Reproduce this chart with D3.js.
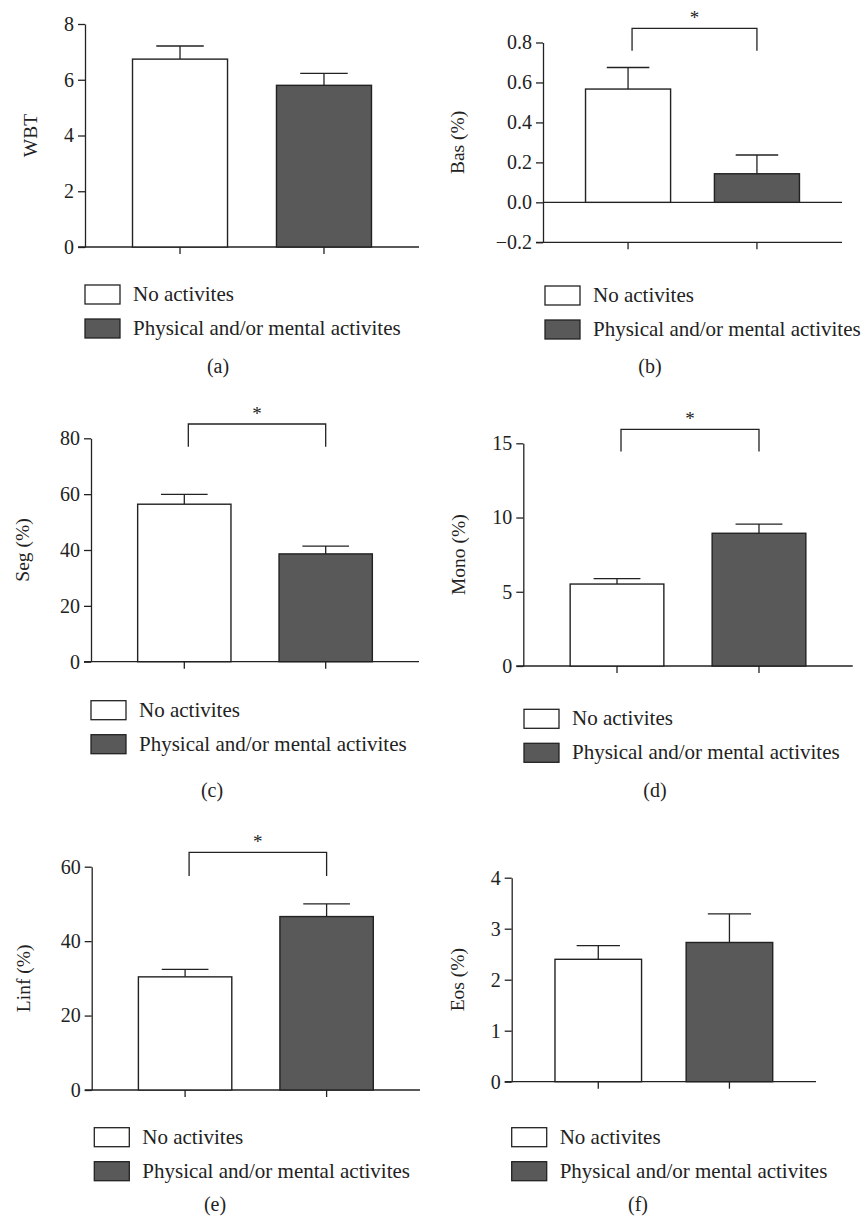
<!DOCTYPE html>
<html>
<head>
<meta charset="utf-8">
<script src="https://cdn.jsdelivr.net/npm/d3@7"></script>
<style>
  body { margin: 0; background: #fff; }
  text { font-family: "Liberation Serif", "Times New Roman", serif; fill: #222; }
</style>
</head>
<body>
<div id="chart"></div>
<script>
// groups shown on every panel
const groups = ['No activites', 'Physical and/or mental activites'];

// bar means and SEM
const wbt = [6.74, 5.80];
const wbtSem = [0.47, 0.43];
const bas = [0.567, 0.143];
const basSem = [0.108, 0.094];
const seg = [56.4, 38.6];
const segSem = [3.5, 2.8];
const mono = [5.52, 8.94];
const monoSem = [0.36, 0.62];
const linf = [30.4, 46.6];
const linfSem = [2.0, 3.4];
const eos = [2.40, 2.73];
const eosSem = [0.27, 0.56];

// y tick values
const wbtTicks = [0, 2, 4, 6, 8];
const basTicks = [-0.2, 0.0, 0.2, 0.4, 0.6, 0.8];
const segTicks = [0, 20, 40, 60, 80];
const monoTicks = [0, 5, 10, 15];
const linfTicks = [0, 20, 40, 60];
const eosTicks = [0, 1, 2, 3, 4];

const yTitles = ['WBT', 'Bas (%)', 'Seg (%)', 'Mono (%)', 'Linf (%)', 'Eos (%)'];
const panelLetters = ['(a)', '(b)', '(c)', '(d)', '(e)', '(f)'];
const significant = [false, true, true, true, true, false];

const width = 865, height = 1219;
const darkFill = '#595959';
const ink = '#222';

const svg = d3.select('#chart').append('svg')
    .attr('width', width)
    .attr('height', height);

// layout for each panel: axis box, legend and caption position
const panels = [
    { vals: wbt, sem: wbtSem, ticks: wbtTicks, fmt: d3.format('d'),
      left: 85, right: 419, top: 24, bottom: 247, titleX: 30,
      legX: 85, legY: 285, capX: 218, capY: 373 },
    { vals: bas, sem: basSem, ticks: basTicks, fmt: d3.format('.1f'),
      left: 543, right: 842, top: 42.5, bottom: 242.3, titleX: 457,
      legX: 545, legY: 286, capX: 650, capY: 373, bracketY: 28.3, legEnd: 50.7 },
    { vals: seg, sem: segSem, ticks: segTicks, fmt: d3.format('d'),
      left: 91, right: 419, top: 438.3, bottom: 661.7, titleX: 22,
      legX: 91, legY: 700.7, capX: 212, capY: 797, bracketY: 424, legEnd: 446.7 },
    { vals: mono, sem: monoSem, ticks: monoTicks, fmt: d3.format('d'),
      left: 523.3, right: 852.7, top: 443.3, bottom: 666, titleX: 458,
      legX: 524, legY: 709.3, capX: 655, capY: 797, bracketY: 429.3, legEnd: 451.5 },
    { vals: linf, sem: linfSem, ticks: linfTicks, fmt: d3.format('d'),
      left: 91.7, right: 420, top: 866.7, bottom: 1090, titleX: 23,
      legX: 94.3, legY: 1127.7, capX: 215, capY: 1211, bracketY: 852.3, legEnd: 876 },
    { vals: eos, sem: eosSem, ticks: eosTicks, fmt: d3.format('d'),
      left: 511.7, right: 816, top: 877.7, bottom: 1081.7, titleX: 457,
      legX: 511.7, legY: 1127.7, capX: 638, capY: 1211 }
];

panels.forEach((p, i) => drawPanel(p, i));

function drawPanel(p, i) {
    const g = svg.append('g').attr('class', 'panel');

    const y = d3.scaleLinear()
        .domain(d3.extent(p.ticks))
        .range([p.bottom, p.top]);

    const x = d3.scaleBand()
        .domain(groups)
        .range([p.left, p.right])
        .paddingInner(0.34)
        .paddingOuter(0.33);

    // y axis
    const yAxis = g.append('g')
        .attr('transform', `translate(${p.left},0)`)
        .call(d3.axisLeft(y).tickValues(p.ticks).tickFormat(p.fmt).tickSize(7).tickSizeOuter(0).tickPadding(4));
    yAxis.attr('font-family', null);
    yAxis.select('.domain').attr('stroke', ink).attr('stroke-width', 1.3);
    yAxis.selectAll('.tick line').attr('stroke', ink).attr('stroke-width', 1.3);
    yAxis.selectAll('.tick text')
        .attr('font-size', 20)
        .attr('fill', ink)
        .text(d => d < 0 ? '\u2212' + p.fmt(-d) : p.fmt(d));

    // x axis at the bottom of the y range, extending past the y axis like the ticks
    const yMin = y.domain()[0];
    g.append('line')
        .attr('x1', p.left - 7).attr('x2', p.right)
        .attr('y1', y(yMin)).attr('y2', y(yMin))
        .attr('stroke', ink).attr('stroke-width', 1.3);

    const xAxis = g.append('g')
        .attr('transform', `translate(0,${y(yMin)})`)
        .call(d3.axisBottom(x).tickSize(7).tickFormat(''));
    xAxis.select('.domain').remove();
    xAxis.selectAll('.tick line').attr('stroke', ink).attr('stroke-width', 1.3);

    // zero line when the axis goes below zero
    if (yMin < 0) {
        g.append('line')
            .attr('x1', p.left).attr('x2', p.right)
            .attr('y1', y(0)).attr('y2', y(0))
            .attr('stroke', ink).attr('stroke-width', 1.3);
    }

    // error bars (upper only)
    const capHalf = x.bandwidth() / 4;
    groups.forEach((grp, k) => {
        const cx = x(grp) + x.bandwidth() / 2;
        const top = y(p.vals[k] + p.sem[k]);
        g.append('line')
            .attr('x1', cx).attr('x2', cx)
            .attr('y1', y(p.vals[k])).attr('y2', top)
            .attr('stroke', ink).attr('stroke-width', 1.3);
        g.append('line')
            .attr('x1', cx - capHalf).attr('x2', cx + capHalf)
            .attr('y1', top).attr('y2', top)
            .attr('stroke', ink).attr('stroke-width', 1.3);
    });

    // bars
    g.selectAll('rect.bar')
        .data(groups)
        .enter()
        .append('rect')
        .attr('class', 'bar')
        .attr('x', d => x(d))
        .attr('width', x.bandwidth())
        .attr('y', (d, k) => y(Math.max(0, p.vals[k])))
        .attr('height', (d, k) => Math.abs(y(p.vals[k]) - y(0)))
        .attr('fill', (d, k) => k === 0 ? '#fff' : darkFill)
        .attr('stroke', ink)
        .attr('stroke-width', 1.4);

    // y title
    const midY = (p.top + p.bottom) / 2;
    g.append('text')
        .attr('transform', `translate(${p.titleX},${midY}) rotate(-90)`)
        .attr('text-anchor', 'middle')
        .attr('dy', '0.35em')
        .attr('font-size', 19.5)
        .text(yTitles[i]);

    // significance bracket
    if (significant[i]) {
        const c1 = x(groups[0]) + x.bandwidth() / 2 + 4;
        const c2 = x(groups[1]) + x.bandwidth() / 2;
        g.append('path')
            .attr('d', `M${c1},${p.legEnd}V${p.bracketY}H${c2}V${p.legEnd}`)
            .attr('fill', 'none')
            .attr('stroke', ink)
            .attr('stroke-width', 1.3);
        g.append('text')
            .attr('x', (c1 + c2) / 2)
            .attr('y', p.bracketY - 4)
            .attr('text-anchor', 'middle')
            .attr('font-size', 19)
            .text('*');
    }

    // legend
    groups.forEach((grp, k) => {
        const ly = p.legY + k * 34;
        g.append('rect')
            .attr('x', p.legX).attr('y', ly)
            .attr('width', 35).attr('height', 19)
            .attr('fill', k === 0 ? '#fff' : darkFill)
            .attr('stroke', ink)
            .attr('stroke-width', 1.3);
        g.append('text')
            .attr('x', p.legX + 48)
            .attr('y', ly + 16)
            .attr('font-size', 21)
            .text(grp);
    });

    // panel caption
    g.append('text')
        .attr('x', p.capX)
        .attr('y', p.capY)
        .attr('text-anchor', 'middle')
        .attr('font-size', 20)
        .text(panelLetters[i]);
}
</script>
</body>
</html>
